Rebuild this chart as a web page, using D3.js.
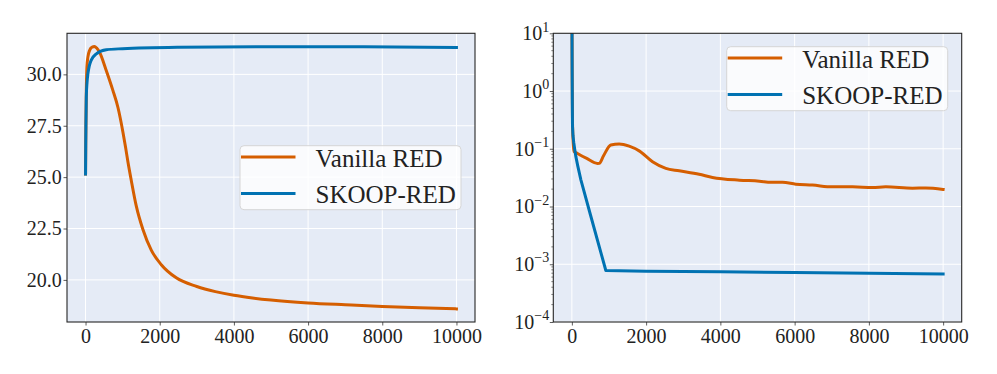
<!DOCTYPE html>
<html>
<head>
<meta charset="utf-8">
<script src="https://cdn.jsdelivr.net/npm/d3@7"></script>
<style>
  body { margin: 0; background: #fff; }
  text { font-family: "Liberation Serif", "DejaVu Serif", serif; fill: #222; }
</style>
</head>
<body>
<svg id="chart" width="997" height="374"></svg>
<script>
// ---- data ----
const seriesNames = ["Vanilla RED", "SKOOP-RED"]
const seriesColors = ["#D55E00", "#0072B2"]
const iterTicks = [0, 2000, 4000, 6000, 8000, 10000]

// left panel (PSNR)
const psnrVanillaIter = [0, 5, 10, 20, 36, 63, 108, 170, 243, 300, 378, 558, 737, 872, 1007, 1079, 1142, 1232, 1367, 1547, 1772, 2042, 2446, 3000, 3500, 4000, 4500, 5000, 6000, 7000, 8000, 9000, 10000]
const psnrVanilla = [25.15, 26.6, 27.6, 29.1, 30.35, 30.84, 31.16, 31.32, 31.36, 31.28, 31.08, 30.19, 29.22, 28.4, 27.2, 26.45, 25.75, 24.85, 23.6, 22.45, 21.45, 20.74, 20.1, 19.68, 19.43, 19.25, 19.12, 19.02, 18.88, 18.79, 18.71, 18.65, 18.59]
const psnrSkoopIter = [0, 5, 10, 20, 40, 65, 100, 150, 290, 560, 1000, 2500, 5000, 7500, 10000]
const psnrSkoop = [25.15, 26.5, 27.5, 28.9, 29.6, 30.05, 30.4, 30.68, 31.0, 31.2, 31.25, 31.32, 31.35, 31.35, 31.31]
const psnrTicks = [20, 22.5, 25, 27.5, 30]

// right panel (log error)
const errVanillaIter = [0, 8, 17, 35, 60, 151, 400, 690, 740, 850, 1050, 1274, 1543, 1813, 2172, 2531, 2890, 3428, 3787, 4514, 5052, 5366, 5672, 6033, 6480, 7020, 7559, 8097, 8456, 9174, 9533, 10000]
const errVanilla = [60, 2, 0.3, 0.13, 0.09, 0.083, 0.068, 0.0558, 0.056, 0.075, 0.116, 0.121, 0.111, 0.092, 0.0596, 0.0457, 0.0416, 0.0363, 0.0319, 0.0286, 0.0275, 0.0262, 0.0262, 0.0244, 0.0235, 0.0219, 0.0219, 0.0214, 0.0219, 0.0208, 0.021, 0.0198]
const errSkoopIter = [0, 6, 12, 17, 30, 50, 80, 108, 160, 243, 500, 915, 2000, 4000, 6000, 8000, 10000]
const errSkoop = [60, 4, 0.6, 0.25, 0.17, 0.13, 0.095, 0.073, 0.05, 0.029, 0.0072, 0.00078, 0.00076, 0.00074, 0.00072, 0.0007, 0.00068]
const errExponents = [-4, -3, -2, -1, 0, 1]

const svg = d3.select("#chart")

function pairs(xs, ys) {
    return xs.map((x, i) => [x, ys[i]])
}

function drawPanel(opt) {
    const {left, top, width, height, x, y, series, legend, id} = opt
    const g = svg.append("g").attr("transform", `translate(${left},${top})`)

    g.append("rect")
        .attr("width", width).attr("height", height)
        .attr("fill", "#e5ebf6")

    g.append("clipPath").attr("id", id)
        .append("rect").attr("width", width).attr("height", height)

    // grid
    g.append("g").selectAll("line")
        .data(iterTicks).join("line")
        .attr("x1", d => x(d)).attr("x2", d => x(d))
        .attr("y1", 0).attr("y2", height)
        .attr("stroke", "#fff").attr("stroke-width", 1)
    g.append("g").selectAll("line")
        .data(opt.yTicks).join("line")
        .attr("x1", 0).attr("x2", width)
        .attr("y1", d => y(d)).attr("y2", d => y(d))
        .attr("stroke", "#fff").attr("stroke-width", 1)

    // lines
    g.append("g").attr("clip-path", `url(#${id})`)
        .selectAll("path")
        .data(series).join("path")
        .attr("d", d => d3.line()
            .x(p => x(p[0]))
            .y(p => y(p[1]))
            .curve(d.curve || d3.curveMonotoneX)(d.values))
        .attr("fill", "none")
        .attr("stroke", d => d.color)
        .attr("stroke-width", 3)
        .attr("stroke-linejoin", "round")
        .attr("stroke-linecap", "square")

    // axes
    const xAxis = g.append("g")
        .attr("transform", `translate(0,${height})`)
        .call(d3.axisBottom(x).tickValues(iterTicks).tickSize(3.5).tickPadding(3.5).tickFormat(d3.format("d")))
    const yAxis = g.append("g").call(opt.yAxis)
    for (const ax of [xAxis, yAxis]) {
        ax.attr("font-family", null)
        ax.select(".domain").remove()
        ax.selectAll(".tick line").attr("stroke", "#333").attr("stroke-width", 0.8)
        ax.selectAll("text").attr("font-size", 20).attr("fill", "#222")
    }
    if (opt.afterY) opt.afterY(yAxis)

    g.append("rect")
        .attr("width", width).attr("height", height)
        .attr("fill", "none").attr("stroke", "#262626").attr("stroke-width", 1.1)

    // legend
    const lg = g.append("g").attr("transform", `translate(${legend[0]},${legend[1]})`)
    lg.append("rect")
        .attr("width", 221).attr("height", 64).attr("rx", 4)
        .attr("fill", "#fff").attr("fill-opacity", 0.8)
        .attr("stroke", "#d6d6d6").attr("stroke-width", 1)
    const row = lg.selectAll("g.row").data(series).join("g")
        .attr("class", "row")
        .attr("transform", (d, i) => `translate(0,${11.3 + i * 36.4})`)
    row.append("line")
        .attr("x1", 1).attr("x2", 55.5)
        .attr("stroke", d => d.color).attr("stroke-width", 3)
    row.append("text")
        .attr("x", 75.5).attr("y", 10)
        .attr("font-size", 25)
        .text(d => d.name)
}

// ---- left panel ----
const leftBox = {left: 67, top: 33.3, width: 408, height: 288.7}
const psnrAll = psnrVanilla.concat(psnrSkoop)
const psnrMin = d3.min(psnrAll), psnrMax = d3.max(psnrAll)
const psnrPad = (psnrMax - psnrMin) * 0.05
const x1 = d3.scaleLinear().domain([-500, 10500]).range([0, leftBox.width])
const y1 = d3.scaleLinear().domain([psnrMin - psnrPad, psnrMax + psnrPad]).range([leftBox.height, 0])

drawPanel({
    ...leftBox, id: "clipL", x: x1, y: y1, yTicks: psnrTicks,
    yAxis: d3.axisLeft(y1).tickValues(psnrTicks).tickSize(3.5).tickPadding(1.8).tickFormat(d3.format(".1f")),
    series: [
        {name: seriesNames[0], color: seriesColors[0], values: pairs(psnrVanillaIter, psnrVanilla)},
        {name: seriesNames[1], color: seriesColors[1], values: pairs(psnrSkoopIter, psnrSkoop)}
    ],
    legend: [173, 112.4]
})

// ---- right panel ----
const rightBox = {left: 553.3, top: 33.3, width: 408.4, height: 288.7}
const x2 = d3.scaleLinear().domain([-500, 10500]).range([0, rightBox.width])
const y2 = d3.scaleLog().domain([1e-4, 1e1]).range([rightBox.height, 0])
const errMajor = errExponents.map(e => Math.pow(10, e))
const errMinor = []
errExponents.slice(0, -1).forEach(e => {
    for (let k = 2; k <= 9; k++) errMinor.push(k * Math.pow(10, e))
})

drawPanel({
    ...rightBox, id: "clipR", x: x2, y: y2, yTicks: errMajor,
    yAxis: d3.axisLeft(y2).tickValues(errMajor).tickSize(3.5).tickPadding(0.6).tickFormat(() => ""),
    afterY: ax => {
        ax.selectAll(".tick text").each(function(d) {
            const t = d3.select(this)
            const e = Math.round(Math.log10(d))
            t.text(null)
            t.append("tspan").text("10")
            t.append("tspan")
                .attr("font-size", 14)
                .attr("dy", "-0.62em")
                .text(String(e).replace("-", "\u2212"))
        })
        ax.append("g").selectAll("line")
            .data(errMinor).join("line")
            .attr("x1", -2).attr("x2", 0)
            .attr("y1", d => y2(d)).attr("y2", d => y2(d))
            .attr("stroke", "#333").attr("stroke-width", 0.6)
    },
    series: [
        {name: seriesNames[0], color: seriesColors[0], values: pairs(errVanillaIter, errVanilla)},
        {name: seriesNames[1], color: seriesColors[1], values: pairs(errSkoopIter, errSkoop), curve: d3.curveLinear}
    ],
    legend: [173.4, 13.4]
})
</script>
</body>
</html>
